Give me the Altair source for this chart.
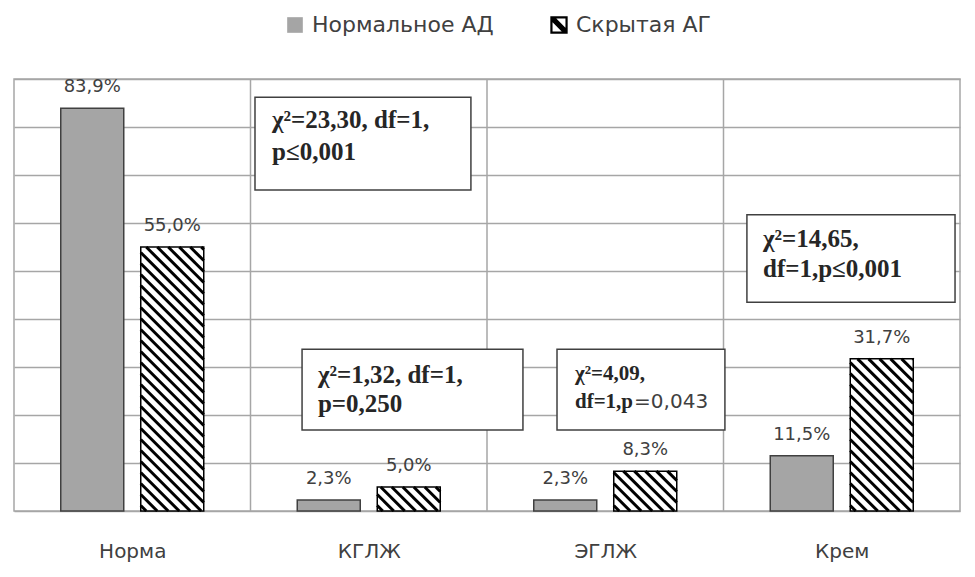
import json
import numpy as np
import pandas as pd
import altair as alt

# ---------------- data ----------------
categories = ["Норма", "КГЛЖ", "ЭГЛЖ", "Крем"]
series = ["Нормальное АД", "Скрытая АГ"]
normal_values = [83.9, 2.3, 2.3, 11.5]
hidden_values = [55.0, 5.0, 8.3, 31.7]
separators = [1, 2, 3]

ann_line1 = ["χ²=23,30, df=1,", "χ²=1,32, df=1,", "χ²=4,09,", "χ²=14,65,"]
ann_line2 = ["p≤0,001", "p=0,250", "df=1,p", "df=1,p≤0,001"]
ann_extra = ["=0,043"]

# ---------------- layout (not data) ----------------
W, H, YMAX = 946, 432, 90
PX_X = W / len(categories)
PX_Y = H / YMAX
BAR_OFF = 40 / PX_X
BAR_HALF = 31.5 / PX_X
HATCH_STEP = 11.0

# annotation boxes in data units: x0, x1, y0, y1
box_x0 = [1.019, 1.218, 2.296, 3.099]
box_x1 = [1.932, 2.152, 3.006, 3.979]
box_y0 = [66.9, 16.9, 16.9, 43.5]
box_y1 = [86.2, 33.7, 33.7, 61.7]
txt_x = [1.091, 1.285, 2.372, 3.167]
txt_y1 = [79.8, 26.7, 27.3, 55.0]
txt_y2 = [73.1, 20.6, 21.4, 48.7]
txt_size = [25, 25, 21, 25]
extra_x = [2.622]
extra_y = [21.4]

# ---------------- tables ----------------
rows = []
for i, cat in enumerate(categories):
    for s, vals, sign in ((series[0], normal_values, -1), (series[1], hidden_values, 1)):
        v = vals[i]
        xc = i + 0.5 + sign * BAR_OFF
        rows.append(dict(cat=cat, series=s, value=v, base=0.0, xc=xc,
                         x0=xc - BAR_HALF, x1=xc + BAR_HALF,
                         label=f"{v:.1f}".replace(".", ",") + "%"))
bars = pd.DataFrame(rows)
normal = bars[bars.series == series[0]]
hidden = bars[bars.series == series[1]]

hl = []
for _, r in hidden.iterrows():
    w = 2 * BAR_HALF * PX_X
    h = r.value * PX_Y
    for t in np.arange(HATCH_STEP / 2, h + w, HATCH_STEP):
        sx = max(0.0, t - h); sy = min(t, h)
        ex = min(w, t); ey = max(0.0, t - w)
        hl.append(dict(xa=r.x0 + sx / PX_X, ya=sy / PX_Y, xb=r.x0 + ex / PX_X, yb=ey / PX_Y))
hatch = pd.DataFrame(hl)

boxes = pd.DataFrame(dict(x0=box_x0, x1=box_x1, y0=box_y0, y1=box_y1))
texts = pd.DataFrame(dict(x=txt_x + txt_x, y=txt_y1 + txt_y2, t=ann_line1 + ann_line2,
                          size=txt_size + txt_size))
extra = pd.DataFrame(dict(x=extra_x, y=extra_y, t=ann_extra))
seps = pd.DataFrame(dict(sep=separators))

# ---------------- encodings ----------------
xscale = alt.Scale(domain=[0, len(categories)], nice=False, zero=False)
yscale = alt.Scale(domain=[0, YMAX], nice=False)
label_expr = f"{json.dumps(categories, ensure_ascii=False)}[floor(datum.value)]"
xaxis = alt.Axis(values=[i + 0.5 for i in range(len(categories))], labelExpr=label_expr,
                 grid=False, ticks=False, domain=False, title=None,
                 labelFont="DejaVu Sans", labelFontSize=20, labelColor="#404040",
                 labelPadding=30)
yaxis = alt.Axis(values=list(range(0, YMAX + 1, 10)), grid=True, gridColor="#a6a6a6",
                 gridWidth=1.5, labels=False, ticks=False, domain=False, title=None)


def X(f):
    return alt.X(f, type="quantitative", scale=xscale, axis=xaxis)


def Y(f):
    return alt.Y(f, type="quantitative", scale=yscale, axis=yaxis)


GRID = "#a6a6a6"
sep_layer = alt.Chart(seps).mark_rule(color=GRID, strokeWidth=1.5).encode(x=X("sep"))

sq_path = "M-0.92,-0.92L0.92,-0.92L0.92,0.92L-0.92,0.92Z"
hatch_path = ("M-1.02,-1.02L1.02,-1.02L1.02,1.02L-1.02,1.02Z"
              "M-0.76,-0.76L-0.76,0.76L0.76,0.76L0.76,-0.76Z"
              "M-0.58,-1.02L1.02,0.58L1.02,1.02L0.58,1.02L-1.02,-0.58L-1.02,-1.02Z")
leg = alt.Legend(title=None, orient="none", legendX=270, legendY=-65, direction="horizontal",
                 symbolSize=289, labelFont="DejaVu Sans", labelFontSize=22, labelLimit=500,
                 labelColor="#404040", symbolStrokeWidth=0, labelOffset=6,
                 columnPadding=54, padding=0)
legend_layer = alt.Chart(bars).mark_point(filled=True, size=100, opacity=1, clip=True).encode(
    x=X("xc"), y=Y("base"),
    color=alt.Color("series:N", scale=alt.Scale(domain=series, range=["#a5a5a5", "#000000"]), legend=leg),
    shape=alt.Shape("series:N", scale=alt.Scale(domain=series, range=[sq_path, hatch_path]), legend=leg),
)

normal_layer = alt.Chart(normal).mark_rect(fill="#a5a5a5", stroke="#404040", strokeWidth=1.5).encode(
    x=X("x0"), x2="x1", y=Y("base"), y2="value")
hidden_bg = alt.Chart(hidden).mark_rect(fill="white").encode(
    x=X("x0"), x2="x1", y=Y("base"), y2="value")
hatch_layer = alt.Chart(hatch).mark_rule(color="black", strokeWidth=3, strokeCap="butt").encode(
    x=X("xa"), y=Y("ya"), x2="xb", y2="yb")
hidden_outline = alt.Chart(hidden).mark_rect(fill="white", fillOpacity=0, stroke="black",
                                              strokeWidth=1.5).encode(
    x=X("x0"), x2="x1", y=Y("base"), y2="value")

value_labels = alt.Chart(bars).mark_text(font="DejaVu Sans", fontSize=18, color="#404040",
                                         baseline="alphabetic", dy=-16).encode(
    x=X("xc"), y=Y("value"), text="label")

box_layer = alt.Chart(boxes).mark_rect(fill="white", stroke="#404040", strokeWidth=1.5).encode(
    x=X("x0"), x2="x1", y=Y("y0"), y2="y1")
text_layer = alt.Chart(texts).mark_text(font="Liberation Serif", fontWeight="bold", color="#262626",
                                        align="left", baseline="alphabetic").encode(
    x=X("x"), y=Y("y"), text="t", size=alt.Size("size:Q", scale=None, legend=None))
extra_layer = alt.Chart(extra).mark_text(font="DejaVu Sans", fontSize=20, color="#404040",
                                         align="left", baseline="alphabetic").encode(
    x=X("x"), y=Y("y"), text="t")

chart = alt.layer(
    sep_layer, legend_layer, normal_layer, hidden_bg, hatch_layer, hidden_outline,
    value_labels, box_layer, text_layer, extra_layer
).properties(
    width=W, height=H, autosize=alt.AutoSizeParams(type="none"),
    padding={"left": 6, "top": 71, "right": 7, "bottom": 58},
    background="white",
).configure_view(stroke=GRID, strokeWidth=1.5)

chart.save("out.html", embed_options={"renderer": "svg", "actions": False})
